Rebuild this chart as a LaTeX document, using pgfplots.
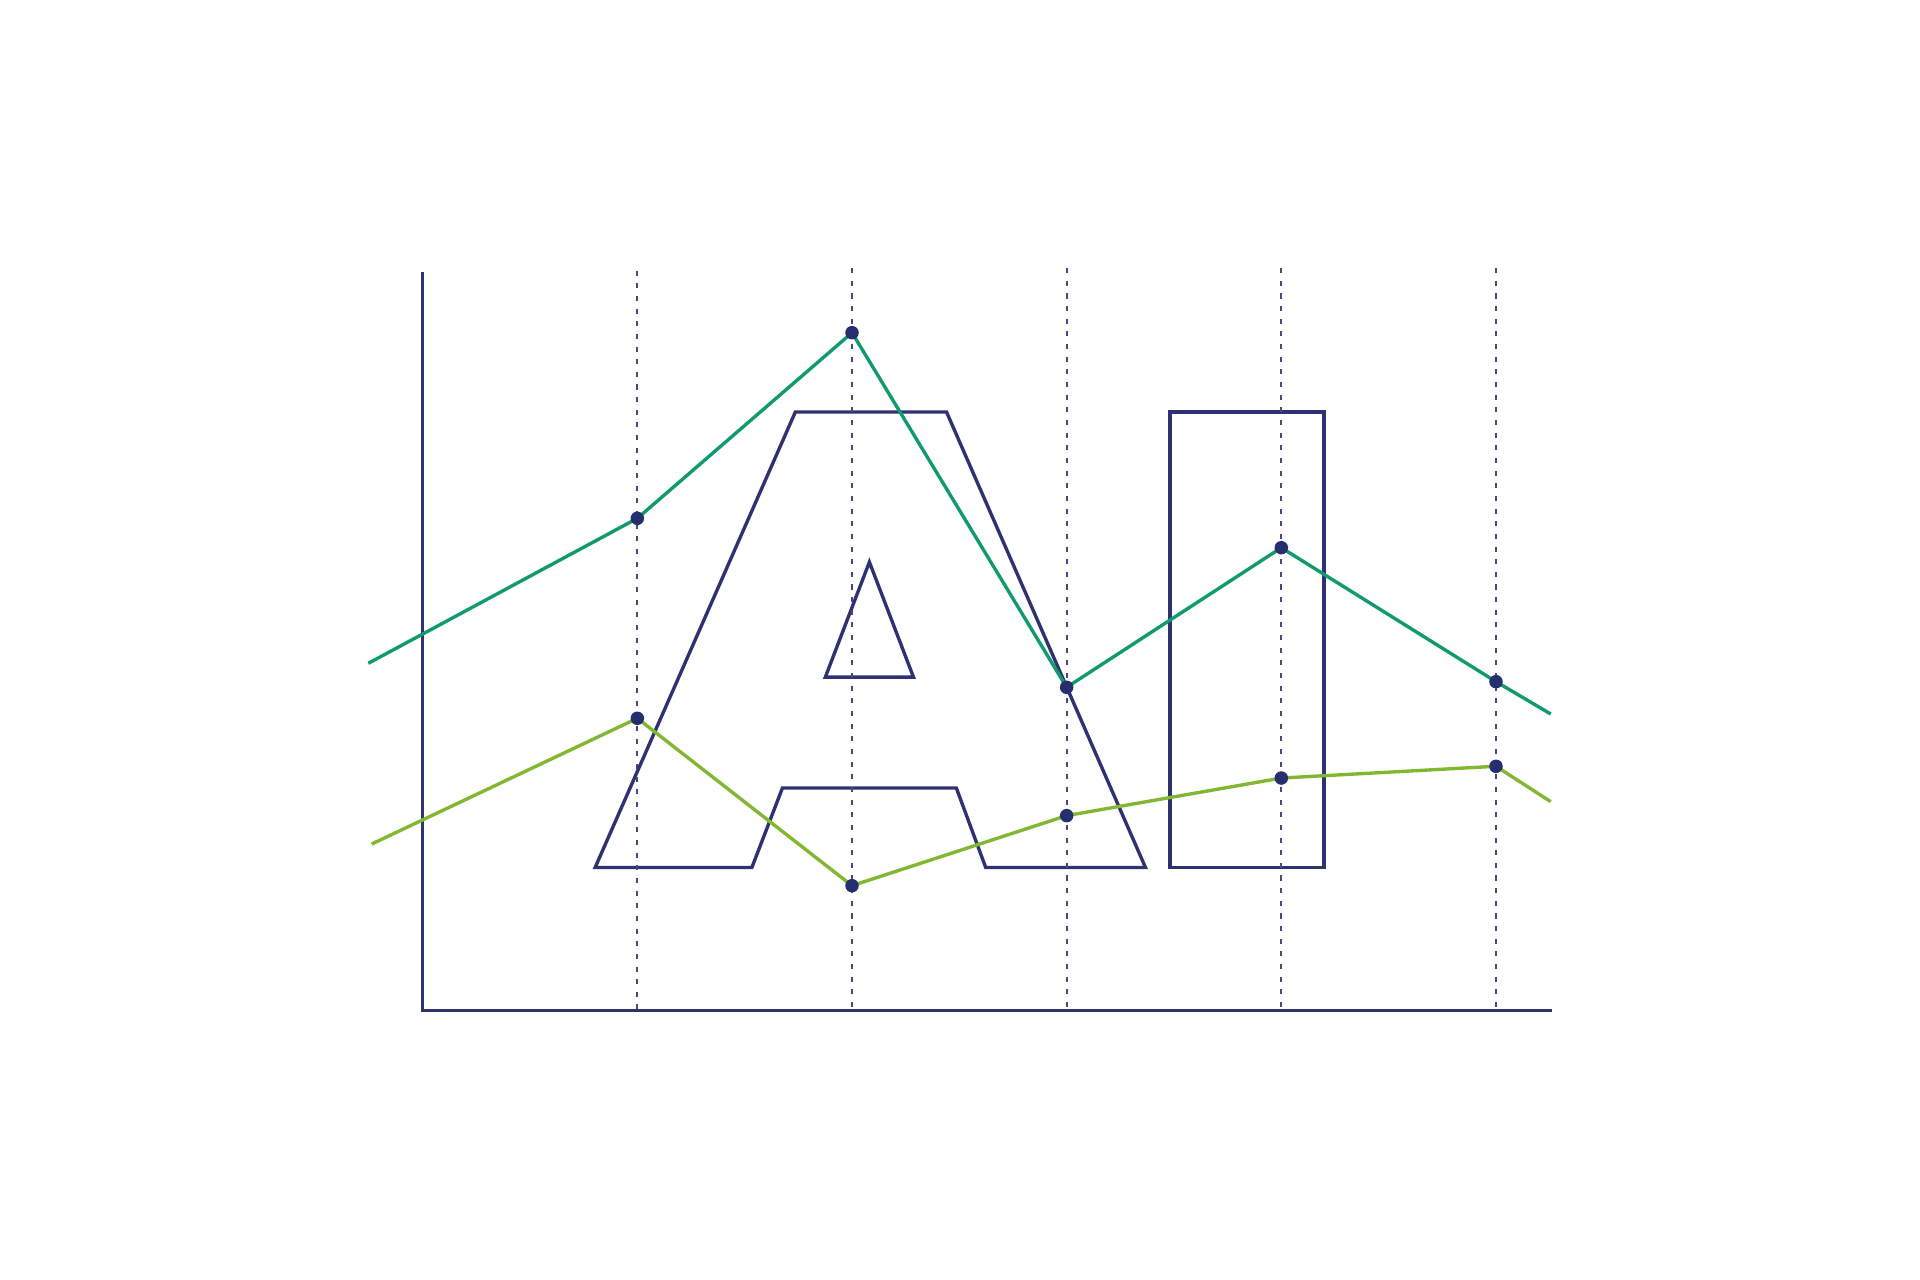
\documentclass[border=0pt]{standalone}
\usepackage{pgfplots}
\pgfplotsset{compat=1.18}
\definecolor{navy}{RGB}{46,50,112}
\definecolor{dotc}{RGB}{37,47,110}
\definecolor{dashc}{RGB}{72,72,125}
\definecolor{dgreen}{RGB}{16,154,110}
\definecolor{lgreen}{RGB}{130,183,50}
\begin{document}
\begin{tikzpicture}
\begin{axis}[
  scale only axis,
  width=16cm, height=10.6667cm,
  xmin=0, xmax=1568, ymin=0, ymax=1045.33,
  y dir=reverse,
  enlargelimits=false,
  clip=false,
  axis line style={draw=none},
  ticks=none,
]
% canvas extent
\addplot[draw=none] coordinates {(0,0) (1568,1045.33)};
% letter A outline
\addplot[navy, line width=0.8pt, line join=miter] coordinates {
  (486,708.5) (649.5,336.5) (773,336.5) (935.5,708.5) (805,708.5)
  (781,643.5) (639,643.5) (614,708.5) (486,708.5)} -- cycle;
\addplot[navy, line width=0.8pt, line join=miter] coordinates {
  (710,459) (746,553) (674,553) (710,459)} -- cycle;
% letter I outline
\addplot[navy, line width=0.8pt] coordinates {
  (955.5,336.5) (1081.3,336.5) (1081.3,708.5) (955.5,708.5) (955.5,336.5)} -- cycle;
% dashed verticals
\addplot[dashc, line width=0.5pt, dash pattern=on 1.2pt off 1.8pt] coordinates {(520.5,221) (520.5,825.4)};
\addplot[dashc, line width=0.5pt, dash pattern=on 1.2pt off 1.8pt] coordinates {(695.8,219) (695.8,825.4)};
\addplot[dashc, line width=0.5pt, dash pattern=on 1.2pt off 1.8pt] coordinates {(871.1,219) (871.1,825.4)};
\addplot[dashc, line width=0.5pt, dash pattern=on 1.2pt off 1.8pt] coordinates {(1046.4,219) (1046.4,825.4)};
\addplot[dashc, line width=0.5pt, dash pattern=on 1.2pt off 1.8pt] coordinates {(1221.7,219) (1221.7,825.4)};
% axes
\addplot[navy, line width=0.8pt] coordinates {(345.2,221.9) (345.2,825.4) (1267.2,825.4)};
% series
\addplot[dgreen, line width=0.8pt] coordinates {
  (300.8,541.7) (520.5,423.3) (695.8,271.7) (871.1,561.3) (1046.4,447.3) (1221.7,556.7) (1266.4,583.1)};
\addplot[lgreen, line width=0.8pt] coordinates {
  (303.5,689.3) (520.5,586.6) (695.8,723.3) (871.1,666.1) (1046.4,635.4) (1221.7,625.8) (1266.4,654.7)};
\addplot[only marks, mark=*, mark size=1.4pt, mark options={fill=dotc, draw=dotc}] coordinates {
  (520.5,423.3) (695.8,271.7) (871.1,561.3) (1046.4,447.3) (1221.7,556.7)};
\addplot[only marks, mark=*, mark size=1.4pt, mark options={fill=dotc, draw=dotc}] coordinates {
  (520.5,586.6) (695.8,723.3) (871.1,666.1) (1046.4,635.4) (1221.7,625.8)};
\end{axis}
\end{tikzpicture}
\end{document}
